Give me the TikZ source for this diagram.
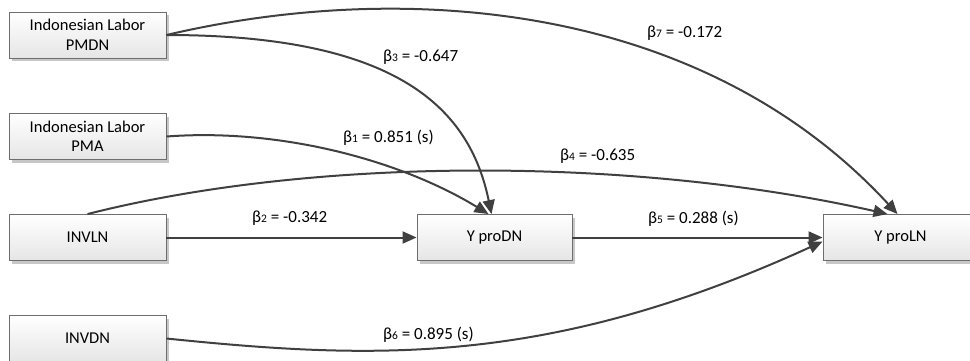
\documentclass[tikz,border=0pt]{standalone}
\usepackage{fontspec}
\setmainfont{Carlito}
\usetikzlibrary{arrows.meta,shadows,calc}
\definecolor{linec}{HTML}{404040}
\definecolor{boxline}{HTML}{6E6E6E}
\begin{document}
\begin{tikzpicture}[x=1pt,y=-1pt,
  varbox/.style={draw=boxline,line width=0.9pt,top color=white,bottom color=black!10,
    minimum width=157pt,minimum height=46pt,inner sep=0pt,align=center,
    font=\fontsize{16.5}{19.5}\selectfont,
    drop shadow={shadow xshift=3pt,shadow yshift=-3pt,fill=black!22,opacity=1}},
  conn/.style={draw=linec,line width=2pt,-{Triangle[length=14pt,width=12pt]}},
  coef/.style={anchor=west,inner sep=0pt,font=\fontsize{17}{19}\selectfont}]
\useasboundingbox (0,0) rectangle (970,360);
\newcommand{\bsub}[1]{β{\fontsize{11.5}{11}\selectfont #1}}
% boxes
\node[varbox] (pmdn) at (87.5,35) {Indonesian Labor\\PMDN};
\node[varbox] (pma) at (87.5,136.5) {Indonesian Labor\\PMA};
\node[varbox] (invln) at (87.5,237.5) {INVLN};
\node[varbox] (invdn) at (87.5,338.5) {INVDN};
\node[varbox,minimum width=155pt] (ypd) at (494.5,237.5) {Y proDN};
\node[varbox,minimum width=155pt] (ypl) at (900.5,237.5) {Y proLN};
% connectors
\draw[conn] (pmdn.east) .. controls (400,-20) and (700,0) .. ($(ypl.north)+(-3,0)$);
\draw[conn] (pmdn.east) .. controls (400,35) and (470,110) .. ($(ypd.north)+(-3,0)$);
\draw[conn] (pma.east) .. controls (280,128) and (400,160) .. ($(ypd.north)+(-6,0)$);
\draw[conn] (invln.north) .. controls (320,155) and (640,158) .. ($(ypl.north)+(-13,0)$);
\draw[conn] (invln.east) -- (ypd.west);
\draw[conn] (ypd.east) -- (ypl.west);
\draw[conn] (invdn.east) .. controls (376,360) and (550,366) .. ($(ypl.west)+(0,4)$);
% coefficients
\node[coef] (b3) at (383,57) {\bsub{3} = -0.647};
\node[coef] (b1) at (343,138) {\bsub{1} = 0.851 (s)};
\node[coef] (b4) at (560,156) {\bsub{4} = -0.635};
\node[coef] (b7) at (647,33) {\bsub{7} = -0.172};
\node[coef] (b2) at (252,218) {\bsub{2} = -0.342};
\node[coef] (b5) at (648,219) {\bsub{5} = 0.288 (s)};
\node[coef] (b6) at (383,335) {\bsub{6} = 0.895 (s)};
\end{tikzpicture}
\end{document}
